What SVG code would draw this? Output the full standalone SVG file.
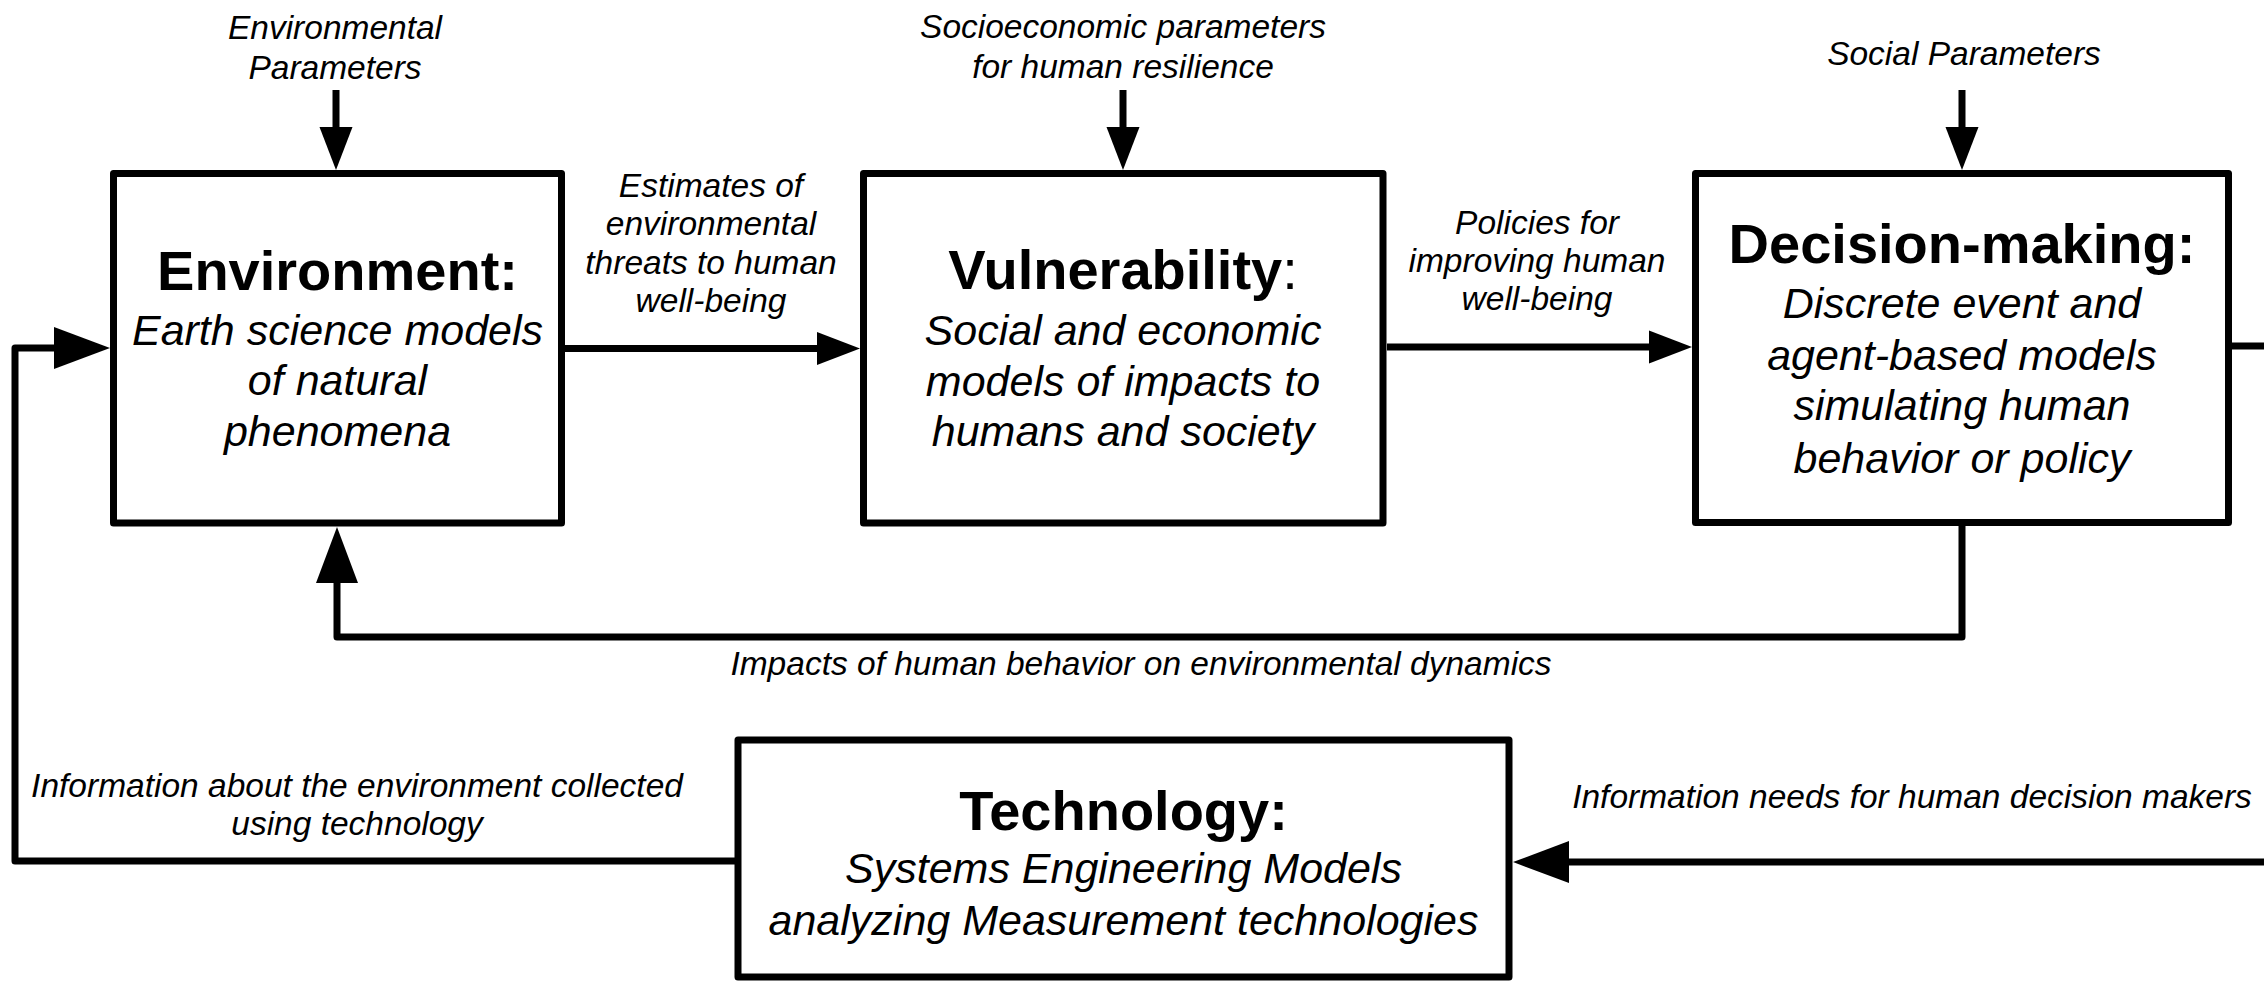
<svg xmlns="http://www.w3.org/2000/svg" width="2264" height="981" viewBox="0 0 2264 981">
<defs>
<style>
.box{fill:#fff;stroke:#000;stroke-width:7;stroke-linejoin:round}
.ln{fill:none;stroke:#000;stroke-width:7;stroke-linejoin:round}
text{font-family:"Liberation Sans",Arial,sans-serif;fill:#000;text-anchor:middle}
.ttl{font-size:56px;font-weight:bold}
.sub{font-size:43px;font-style:italic}
.lbl{font-size:33.5px;font-style:italic}
</style>
<marker id="ah" markerUnits="userSpaceOnUse" markerWidth="44" markerHeight="34" refX="0" refY="16.5" orient="auto" overflow="visible">
<path d="M0,0 L43,16.5 L0,33 Z" fill="#000"/>
</marker>
<marker id="ahb" markerUnits="userSpaceOnUse" markerWidth="57" markerHeight="43" refX="0" refY="21" orient="auto" overflow="visible">
<path d="M0,0 L56,21 L0,42 Z" fill="#000"/>
</marker>
</defs>
<rect width="2264" height="981" fill="#fff"/>
<g id="connectors">
<path class="ln" d="M336,90 V127" marker-end="url(#ah)"/>
<path class="ln" d="M1123,90 V127" marker-end="url(#ah)"/>
<path class="ln" d="M1962,90 V127" marker-end="url(#ah)"/>
<path class="ln" d="M565,348.5 H817" marker-end="url(#ah)"/>
<path class="ln" d="M1387,347 H1649" marker-end="url(#ah)"/>
<path class="ln" d="M2232,346 H2270"/>
<path class="ln" d="M1962,526 V637 H337 V583" marker-end="url(#ahb)"/>
<path class="ln" d="M738,861 H15 V348 H54" marker-end="url(#ahb)"/>
<path class="ln" d="M2270,862 H1569" marker-end="url(#ahb)"/>
<text class="lbl" x="335" y="39">Environmental</text>
<text class="lbl" x="335" y="79">Parameters</text>
<text class="lbl" x="1123" y="38">Socioeconomic parameters</text>
<text class="lbl" x="1123" y="78">for human resilience</text>
<text class="lbl" x="1964" y="65">Social Parameters</text>
<text class="lbl" x="711" y="197">Estimates of</text>
<text class="lbl" x="711" y="235">environmental</text>
<text class="lbl" x="711" y="274">threats to human</text>
<text class="lbl" x="711" y="312">well-being</text>
<text class="lbl" x="1537" y="234">Policies for</text>
<text class="lbl" x="1537" y="272">improving human</text>
<text class="lbl" x="1537" y="310">well-being</text>
<text class="lbl" x="1141" y="675">Impacts of human behavior on environmental dynamics</text>
<text class="lbl" x="357" y="797">Information about the environment collected</text>
<text class="lbl" x="357" y="835">using technology</text>
<text class="lbl" x="1912" y="808">Information needs for human decision makers</text>
</g>
<g id="environment">
<rect class="box" x="113.5" y="173.5" width="448" height="349.5"/>
<text class="ttl" x="337.5" y="290">Environment:</text>
<text class="sub" x="337.5" y="345">Earth science models</text>
<text class="sub" x="337.5" y="395">of natural</text>
<text class="sub" x="337.5" y="446">phenomena</text>
</g>
<g id="vulnerability">
<rect class="box" x="863.5" y="173.5" width="519.5" height="349.5"/>
<text class="ttl" x="1123" y="289">Vulnerability<tspan font-weight="normal">:</tspan></text>
<text class="sub" x="1123" y="345">Social and economic</text>
<text class="sub" x="1123" y="396">models of impacts to</text>
<text class="sub" x="1123" y="446">humans and society</text>
</g>
<g id="decision-making">
<rect class="box" x="1695.5" y="173.5" width="533" height="349"/>
<text class="ttl" x="1962" y="263">Decision-making:</text>
<text class="sub" x="1962" y="318">Discrete event and</text>
<text class="sub" x="1962" y="370">agent-based models</text>
<text class="sub" x="1962" y="420">simulating human</text>
<text class="sub" x="1962" y="473">behavior or policy</text>
</g>
<g id="technology">
<rect class="box" x="738" y="740" width="771" height="237"/>
<text class="ttl" x="1123.5" y="830">Technology:</text>
<text class="sub" x="1123.5" y="883">Systems Engineering Models</text>
<text class="sub" x="1123.5" y="935">analyzing Measurement technologies</text>
</g>
</svg>
